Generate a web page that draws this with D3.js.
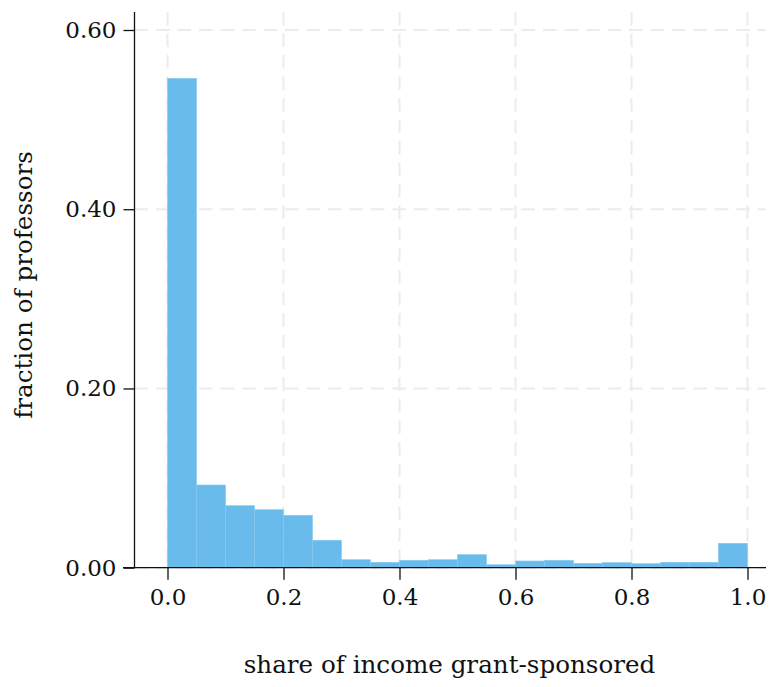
<!DOCTYPE html>
<html><head><meta charset="utf-8">
<script src="https://cdn.jsdelivr.net/npm/d3@7"></script>
<style>body{margin:0;background:#fff}svg text{font-family:"DejaVu Serif",serif;fill:#111}</style>
</head><body><svg id="c" width="769" height="687"></svg>
<script>
const binStarts = [0.00,0.05,0.10,0.15,0.20,0.25,0.30,0.35,0.40,0.45,0.50,0.55,0.60,0.65,0.70,0.75,0.80,0.85,0.90,0.95];
const binWidth = 0.05;
const fractions = [0.546,0.0923,0.0692,0.0647,0.0585,0.0306,0.0089,0.0060,0.0083,0.0089,0.0145,0.0033,0.0075,0.0083,0.0049,0.0056,0.0045,0.0060,0.0060,0.0272];
const xTicks = [0.0,0.2,0.4,0.6,0.8,1.0];
const yTicks = [0.0,0.2,0.4,0.6];
const xLabel = "share of income grant-sponsored";
const yLabel = "fraction of professors";

const FONT = "DejaVu Serif, serif";
const svg = d3.select("#c");
const x = d3.scaleLinear().domain([0,1]).range([167.5,747.5]);
const y = d3.scaleLinear().domain([0,0.6]).range([567.7,30]);
const plotTop = 12, plotRight = 766, leftSpine = 134.5, bottomLeft = 123;

// grid
const g = svg.append("g");
g.selectAll(".vg").data(xTicks).join("line")
  .attr("x1",d=>x(d)).attr("x2",d=>x(d)).attr("y1",plotTop).attr("y2",y(0))
  .attr("stroke","#ececec").attr("stroke-width",2).attr("stroke-dasharray","13.5,8");
g.selectAll(".hg").data(yTicks).join("line")
  .attr("x1",leftSpine).attr("x2",plotRight).attr("y1",d=>y(d)).attr("y2",d=>y(d))
  .attr("stroke","#ececec").attr("stroke-width",2).attr("stroke-dasharray","13.5,8");

// bars
svg.append("g").selectAll("rect").data(binStarts).join("rect")
  .attr("x",(d)=>x(d)).attr("width",(d)=>x(d+binWidth)-x(d))
  .attr("y",(d,i)=>y(fractions[i])).attr("height",(d,i)=>y(0)-y(fractions[i]))
  .attr("fill","#68bbea").attr("stroke","#86c9f0").attr("stroke-width",0.6);

// axes
const xAxis = d3.axisBottom(x).tickValues(xTicks).tickFormat(d3.format(".1f")).tickSize(12).tickPadding(9);
const xa = svg.append("g").attr("transform",`translate(0,${y(0)})`).call(xAxis);
xa.select(".domain").remove();
xa.selectAll(".tick line").attr("stroke","#111").attr("stroke-width",1.3);
xa.selectAll("text").attr("font-size",23).style("font-family",FONT).attr("fill","#111");
svg.append("line").attr("x1",bottomLeft).attr("x2",plotRight).attr("y1",y(0)).attr("y2",y(0)).attr("stroke","#111").attr("stroke-width",1.3);

const yAxis = d3.axisLeft(y).tickValues(yTicks).tickFormat(d3.format(".2f")).tickSize(11).tickPadding(7);
const ya = svg.append("g").attr("transform",`translate(${leftSpine},0)`).call(yAxis);
ya.select(".domain").remove();
ya.selectAll(".tick line").attr("stroke","#111").attr("stroke-width",1.3);
ya.selectAll("text").attr("font-size",23).style("font-family",FONT).attr("fill","#111");
svg.append("line").attr("x1",leftSpine).attr("x2",leftSpine).attr("y1",plotTop).attr("y2",y(0)).attr("stroke","#111").attr("stroke-width",1.3);

svg.append("text").attr("x",449.5).attr("y",673).attr("text-anchor","middle").attr("font-size",24.6).text(xLabel);
svg.append("text").attr("transform",`translate(32,285) rotate(-90)`).attr("text-anchor","middle").attr("font-size",24.6).text(yLabel);
</script></body></html>
